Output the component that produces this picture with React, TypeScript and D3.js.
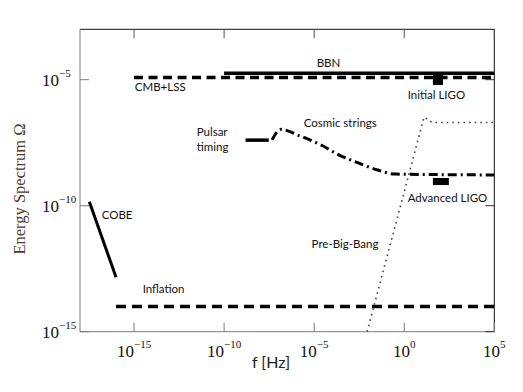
import React from "react";
import * as d3 from "d3";

// frequency f [Hz] vs energy spectrum Omega
const bbn = [
  { f: 1e-10, omega: 1.8e-5 },
  { f: 1e5, omega: 1.8e-5 },
];
const cmbLss = [
  { f: 1e-15, omega: 1.22e-5 },
  { f: 1e5, omega: 1.22e-5 },
];
const inflation = [
  { f: 1e-16, omega: 1e-14 },
  { f: 1e5, omega: 1e-14 },
];
const cobe = [
  { f: 3.3e-18, omega: 1.45e-10 },
  { f: 1e-16, omega: 1.45e-13 },
];
const pulsar = [
  { f: 1.55e-9, omega: 4e-8 },
  { f: 3e-8, omega: 4e-8 },
];
const cosmicStrings = [
  { f: 4.6e-8, omega: 4.1e-8 },
  { f: 1.4e-7, omega: 1.07e-7 },
  { f: 1.6e-6, omega: 5.9e-8 },
  { f: 2.6e-5, omega: 2.5e-8 },
  { f: 2.6e-4, omega: 1.0e-8 },
  { f: 2.6e-3, omega: 5.1e-9 },
  { f: 3.4e-2, omega: 2.6e-9 },
  { f: 0.3, omega: 1.8e-9 },
  { f: 1e5, omega: 1.66e-9 },
];
const preBigBang = [
  { f: 8.7e-3, omega: 1e-15 },
  { f: 12.6, omega: 3.3e-7 },
  { f: 35, omega: 2e-7 },
  { f: 1e5, omega: 2e-7 },
];
// detector sensitivity boxes
const ligoBoxes = [
  { name: "Initial LIGO", f0: 39, f1: 141, omega0: 6.2e-6, omega1: 1.8e-5 },
  { name: "Advanced LIGO", f0: 39, f1: 300, omega0: 6.6e-10, omega1: 1.26e-9 },
];
const labels = [
  { text: "BBN", f: 1.38e-5, omega: 3.2e-5 },
  { text: "CMB+LSS", f: 1.1e-15, omega: 3.5e-6 },
  { text: "Initial LIGO", f: 1.55, omega: 1.7e-6 },
  { text: "Pulsar", f: 3e-12, omega: 5.9e-8 },
  { text: "timing", f: 3e-12, omega: 1.5e-8 },
  { text: "Cosmic strings", f: 2.6e-6, omega: 1.3e-7 },
  { text: "Advanced LIGO", f: 1.55, omega: 1.4e-10 },
  { text: "COBE", f: 1.6e-17, omega: 3e-11 },
  { text: "Pre-Big-Bang", f: 7.2e-6, omega: 2.1e-12 },
  { text: "Inflation", f: 3e-15, omega: 3.5e-14 },
];
const xTickExps = [-15, -10, -5, 0, 5];
const yTickExps = [-15, -10, -5];

const W = 523;
const H = 392;
const margin = { left: 80, right: 28.7, top: 29.3, bottom: 60.3 };

const serif = "'Liberation Serif', 'Times New Roman', serif";
const sans = "Lato, 'Open Sans', sans-serif";

export default function App() {
  const x = d3
    .scaleLog()
    .domain([1e-18, 1e5])
    .range([margin.left, W - margin.right]);
  const y = d3
    .scaleLog()
    .domain([1e-15, 1e-3])
    .range([H - margin.bottom, margin.top]);

  const line = d3
    .line<{ f: number; omega: number }>()
    .x((d) => x(d.f))
    .y((d) => y(d.omega));
  const smooth = d3
    .line<{ f: number; omega: number }>()
    .curve(d3.curveMonotoneX)
    .x((d) => x(d.f))
    .y((d) => y(d.omega));

  const [x0, x1] = x.range();
  const [y0, y1] = y.range();
  const tick = 9;

  return (
    <svg
      width={W}
      height={H}
      style={{ position: "absolute", left: 0, top: 0, background: "#fff" }}
    >
      {/* frame */}
      <line x1={x0} x2={x1} y1={y1} y2={y1} stroke="#111" strokeWidth={1} />
      <line x1={x1} x2={x1} y1={y1} y2={y0} stroke="#111" strokeWidth={1} />
      <line x1={x0} x2={x0} y1={y1} y2={y0} stroke="#7a7a7a" strokeWidth={1} />
      <line x1={x0} x2={x1} y1={y0} y2={y0} stroke="#7a7a7a" strokeWidth={1} />

      {/* x ticks */}
      {xTickExps.map((e) => {
        const px = x(Math.pow(10, e));
        return (
          <g key={"x" + e}>
            <line x1={px} x2={px} y1={y0} y2={y0 - tick} stroke="#7a7a7a" />
            <line x1={px} x2={px} y1={y1} y2={y1 + tick} stroke="#555" />
            <text
              x={px}
              y={357}
              textAnchor="middle"
              fontFamily={serif}
              fontSize={17}
              fill="#111"
            >
              10
              <tspan fontSize={11} dy={-9}>
                {"\u2212".repeat(e < 0 ? 1 : 0) + Math.abs(e)}
              </tspan>
            </text>
          </g>
        );
      })}

      {/* y ticks */}
      {yTickExps.map((e) => {
        const py = y(Math.pow(10, e));
        return (
          <g key={"y" + e}>
            <line x1={x0} x2={x0 + tick} y1={py} y2={py} stroke="#7a7a7a" />
            <line x1={x1} x2={x1 - tick} y1={py} y2={py} stroke="#333" />
            <text
              x={42}
              y={py + 6}
              fontFamily={serif}
              fontSize={17}
              fill="#111"
            >
              10
              <tspan fontSize={11} dy={-9}>
                {"\u2212" + Math.abs(e)}
              </tspan>
            </text>
          </g>
        );
      })}

      {/* curves */}
      <path d={line(inflation)!} fill="none" stroke="#000" strokeWidth={3.5} strokeDasharray="10,6" />
      <path d={line(cmbLss)!} fill="none" stroke="#000" strokeWidth={3.5} strokeDasharray="9,5.5" />
      <path d={line(bbn)!} fill="none" stroke="#000" strokeWidth={3.5} />
      <path d={line(cobe)!} fill="none" stroke="#000" strokeWidth={3} />
      <path d={line(pulsar)!} fill="none" stroke="#000" strokeWidth={3.5} />
      <path
        d={smooth(cosmicStrings)!}
        fill="none"
        stroke="#000"
        strokeWidth={3}
        strokeDasharray="9,4,2,4"
      />
      <path
        d={line(preBigBang)!}
        fill="none"
        stroke="#444"
        strokeWidth={1.6}
        strokeDasharray="1.6,4"
      />
      {ligoBoxes.map((b) => (
        <rect
          key={b.name}
          x={x(b.f0)}
          y={y(b.omega1)}
          width={x(b.f1) - x(b.f0)}
          height={y(b.omega0) - y(b.omega1)}
          fill="#000"
        />
      ))}

      {/* annotations */}
      {labels.map((l) => (
        <text
          key={l.text}
          x={x(l.f)}
          y={y(l.omega)}
          fontFamily={sans}
          fontSize={11.5}
          fill="#111"
        >
          {l.text}
        </text>
      ))}

      {/* axis titles */}
      <text x={271} y={368} textAnchor="middle" fontFamily={sans} fontSize={16} fill="#222">
        f [Hz]
      </text>
      <text
        transform="translate(25,189) rotate(-90)"
        textAnchor="middle"
        fontFamily={serif}
        fontSize={16.5}
        fill="#4e3b2c"
      >
        Energy Spectrum Ω
      </text>
    </svg>
  );
}
